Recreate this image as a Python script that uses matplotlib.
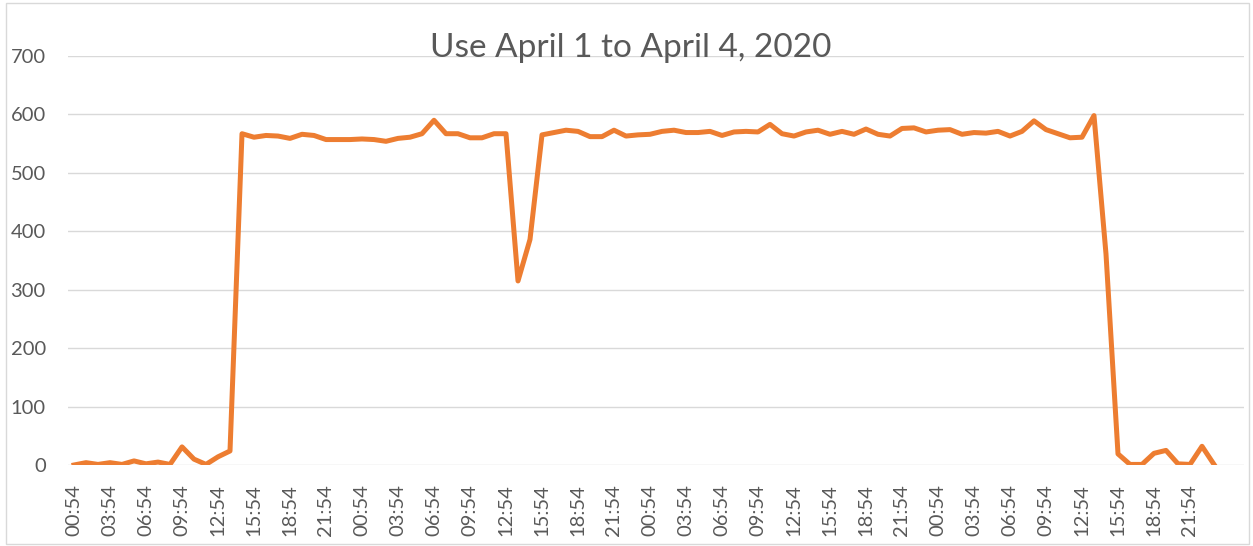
import matplotlib
matplotlib.use("Agg")
from matplotlib import pyplot as plt
from matplotlib.patches import Rectangle
import numpy as np

# hourly usage, April 1 00:54 to April 4 23:54
usage = [0, 4, 1, 4, 1, 7, 2, 5, 1, 31, 10, 1, 14, 24,
         567, 561, 564, 563, 559, 566, 564, 557, 557, 557, 558, 557, 554, 559,
         561, 567, 590, 567, 567, 560, 560, 567, 567, 315, 386, 565, 569, 573,
         571, 562, 562, 573, 563, 565, 566, 571, 573, 569, 569, 571, 564, 570,
         571, 570, 583, 567, 563, 570, 573, 566, 571, 566, 575, 566, 563, 576,
         577, 570, 573, 574, 566, 569, 568, 571, 563, 571, 589, 574, 567, 560,
         561, 598, 361, 19, 1, 1, 20, 25, 2, 1, 32, 1]

tick_labels = ["00:54", "03:54", "06:54", "09:54", "12:54", "15:54", "18:54", "21:54"] * 4
y_ticks = [0, 100, 200, 300, 400, 500, 600, 700]

W, H = 1253, 546
fig = plt.figure(figsize=(W / 100, H / 100), dpi=100)
plt.rcParams['font.family'] = ['Lato', 'DejaVu Sans']

ax = fig.add_axes([68 / W, 1 - 465 / H, (1244 - 68) / W, (465 - 56) / H])

x = np.arange(len(usage))
ax.plot(x, usage, color='#ED7D31', linewidth=3.6, solid_joinstyle='round', zorder=3)

ax.set_xlim(-0.5, 97.5)
ax.set_ylim(0, 700)
ax.set_yticks(y_ticks)
ax.set_xticks(np.arange(0, len(usage), 3))
ax.set_xticklabels(tick_labels, rotation=90)
ax.grid(axis='y', color='#D9D9D9', linewidth=1.0)
ax.set_axisbelow(True)
for s in ax.spines.values():
    s.set_visible(False)
ax.tick_params(axis='both', length=0, labelsize=14.5, labelcolor='#595959')
ax.tick_params(axis='y', pad=16)
ax.tick_params(axis='x', pad=14)

fig.text(631 / W, 1 - 48 / H, "Use April 1 to April 4, 2020", ha='center', va='center',
         fontsize=24, color='#595959')

fig.patches.append(Rectangle((6 / W, 2 / H), (1249 - 6) / W, (543 - 2) / H,
                             transform=fig.transFigure, fill=False,
                             edgecolor='#D9D9D9', linewidth=1.0))

plt.savefig("out.png", dpi=100)
